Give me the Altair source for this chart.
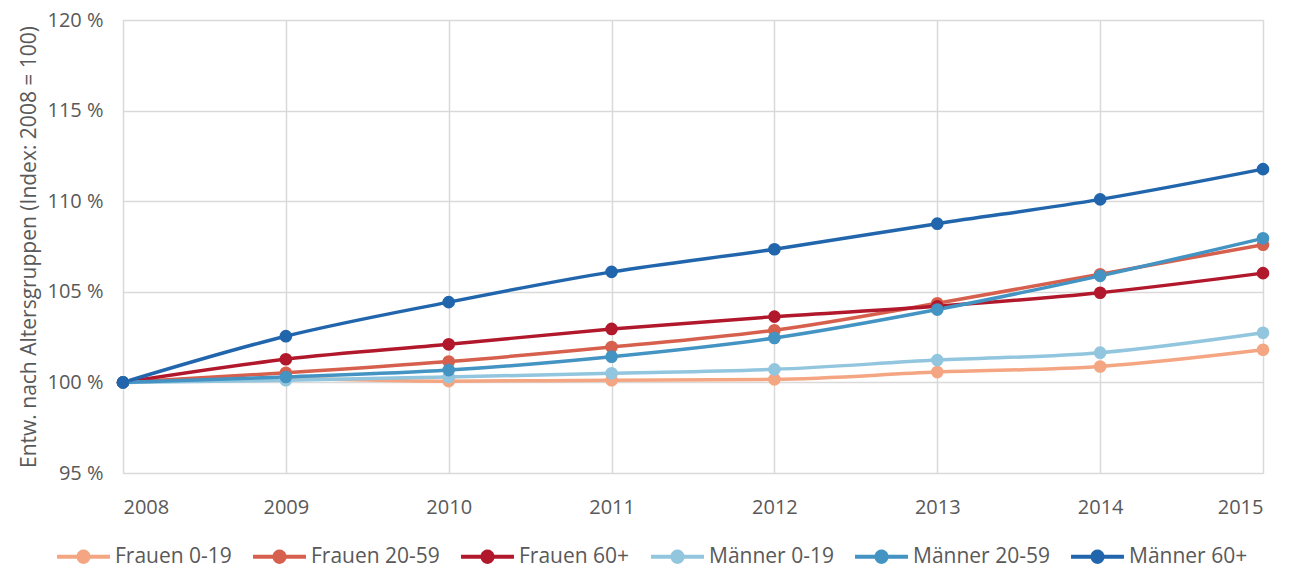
import altair as alt
import pandas as pd

years = [2008, 2009, 2010, 2011, 2012, 2013, 2014, 2015]
series_names = ["Frauen 0-19", "Frauen 20-59", "Frauen 60+", "Männer 0-19", "Männer 20-59", "Männer 60+"]
frauen_0_19 = [100.0, 100.2, 100.07, 100.12, 100.17, 100.57, 100.88, 101.8]
frauen_20_59 = [100.0, 100.53, 101.15, 101.95, 102.88, 104.37, 105.97, 107.6]
frauen_60 = [100.0, 101.28, 102.1, 102.95, 103.63, 104.2, 104.95, 106.03]
maenner_0_19 = [100.0, 100.12, 100.3, 100.5, 100.72, 101.23, 101.64, 102.74]
maenner_20_59 = [100.0, 100.3, 100.68, 101.42, 102.45, 104.02, 105.88, 107.95]
maenner_60 = [100.0, 102.55, 104.43, 106.1, 107.35, 108.76, 110.1, 111.77]
colors = ["#F4A582", "#D6604D", "#B2182B", "#92C5DE", "#4393C3", "#2166AC"]
y_ticks = [95, 100, 105, 110, 115, 120]

all_series = [frauen_0_19, frauen_20_59, frauen_60, maenner_0_19, maenner_20_59, maenner_60]
rows = []
for name, vals in zip(series_names, all_series):
    for yr, v in zip(years, vals):
        rows.append({"Jahr": yr, "Wert": v, "Gruppe": name})
df = pd.DataFrame(rows)

FONT = "Open Sans"
GREY = "#595959"

# legend symbol: line with a circle in the middle
h, r = 0.08, 0.27
x0 = (r * r - h * h) ** 0.5
sym = (f"M-1,{-h} L{-x0:.4f},{-h} A{r},{r} 0 0,1 {x0:.4f},{-h} L1,{-h} L1,{h} "
       f"L{x0:.4f},{h} A{r},{r} 0 0,1 {-x0:.4f},{h} L-1,{h} Z")

x = alt.X("Jahr:Q", scale=alt.Scale(domain=[2008, 2015], nice=False, zero=False),
          axis=alt.Axis(values=years, format="d", title=None, tickSize=0, labelPadding=24,
                        labelFontSize=20, labelColor=GREY, labelFont=FONT, domain=False,
                        grid=True, gridColor="#d9d9d9", gridWidth=1.5))
y = alt.Y("Wert:Q", scale=alt.Scale(domain=[95, 120], nice=False, zero=False),
          axis=alt.Axis(values=y_ticks, labelExpr="datum.value + ' %'",
                        title="Entw. nach Altersgruppen (Index: 2008 = 100)",
                        titleFontSize=21, titleFontWeight="normal", titleColor=GREY, titleFont=FONT,
                        titlePadding=7, tickSize=0, labelPadding=20, labelFontSize=20,
                        labelColor=GREY, labelFont=FONT, domain=False,
                        grid=True, gridColor="#d9d9d9", gridWidth=1.5))
color_scale = alt.Scale(domain=series_names, range=colors)

chart = alt.Chart(df).mark_line(
    strokeWidth=3.5, interpolate="monotone",
    point=alt.OverlayMarkDef(filled=True, size=160, opacity=1),
).encode(
    x=x, y=y,
    color=alt.Color("Gruppe:N", scale=color_scale,
                    legend=alt.Legend(title=None, orient="none", direction="horizontal",
                                      legendX=-66, legendY=510,
                                      symbolType=sym, symbolSize=2800, symbolStrokeWidth=0,
                                      symbolFillColor="#888", symbolOpacity=1,
                                      labelFontSize=21, labelColor=GREY, labelFont=FONT,
                                      labelOffset=5, columnPadding=21)),
    order=alt.Order("Jahr:Q"),
).properties(
    width=1140, height=453,
    autosize=alt.AutoSizeParams(type="none"),
    padding={"left": 115, "top": 12, "right": 31, "bottom": 96},
).configure_view(stroke=None).configure(background="white")

chart.save("out.html", embed_options={"renderer": "svg", "actions": False})
